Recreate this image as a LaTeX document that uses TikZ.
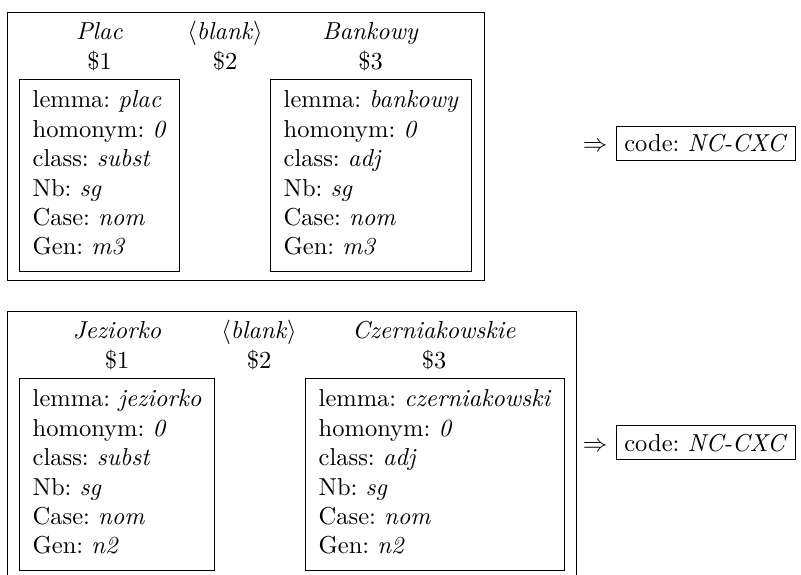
\documentclass[tikz,border=0pt]{standalone}
\usetikzlibrary{fit}
\newcommand{\feat}[2]{#1: \textit{#2}}
\frenchspacing
\begin{document}
\begin{tikzpicture}[x=0.40816pt, y=-0.40816pt,
  frame/.style={draw, line width=0.4pt, inner sep=0pt},
  featbox/.style={draw, line width=0.4pt, anchor=north west,
    inner xsep=5.4pt, inner ysep=3.2pt, align=left},
  head/.style={anchor=base, inner sep=0pt},
  codebox/.style={draw, line width=0.4pt, anchor=base west, inner sep=3.2pt},
  impl/.style={anchor=base, inner sep=0pt}]
\useasboundingbox (0,0) rectangle (801,575);
\clip (0,0) rectangle (801,575);

% ---- first rule: Plac Bankowy ----
\node[frame, fit={(7,12) (484,280)}] (outerA) {};
\node[head] (wA1) at (99.5,40) {\textit{Plac}};
\node[head] (wA2) at (225,40) {$\langle$\textit{blank}$\rangle$};
\node[head] (wA3) at (370.5,40) {\textit{Bankowy}};
\node[head] (nA1) at (99.5,69.4) {\$1};
\node[head] (nA2) at (225,69.4) {\$2};
\node[head] (nA3) at (370.5,69.4) {\$3};
\node[featbox] (fA1) at (19,79) {\begin{tabular}{@{}l@{}}
  \feat{lemma}{plac}\\ \feat{homonym}{0}\\ \feat{class}{subst}\\
  \feat{Nb}{sg}\\ \feat{Case}{nom}\\ \feat{Gen}{m3}\end{tabular}};
\node[featbox] (fA3) at (270,79) {\begin{tabular}{@{}l@{}}
  \feat{lemma}{bankowy}\\ \feat{homonym}{0}\\ \feat{class}{adj}\\
  \feat{Nb}{sg}\\ \feat{Case}{nom}\\ \feat{Gen}{m3}\end{tabular}};
\node[impl] (iA) at (595,152) {$\Rightarrow$};
\node[codebox] (cA) at (616,152) {code: \textit{NC-CXC}};

% ---- second rule: Jeziorko Czerniakowskie ----
\node[frame, fit={(7,311) (576,578)}] (outerB) {};
\node[head] (wB1) at (117,339) {\textit{Jeziorko}};
\node[head] (wB2) at (259,339) {$\langle$\textit{blank}$\rangle$};
\node[head] (wB3) at (434,339) {\textit{Czerniakowskie}};
\node[head] (nB1) at (117,368.4) {\$1};
\node[head] (nB2) at (259,368.4) {\$2};
\node[head] (nB3) at (434,368.4) {\$3};
\node[featbox] (fB1) at (19,378) {\begin{tabular}{@{}l@{}}
  \feat{lemma}{jeziorko}\\ \feat{homonym}{0}\\ \feat{class}{subst}\\
  \feat{Nb}{sg}\\ \feat{Case}{nom}\\ \feat{Gen}{n2}\end{tabular}};
\node[featbox] (fB3) at (305,378) {\begin{tabular}{@{}l@{}}
  \feat{lemma}{czerniakowski}\\ \feat{homonym}{0}\\ \feat{class}{adj}\\
  \feat{Nb}{sg}\\ \feat{Case}{nom}\\ \feat{Gen}{n2}\end{tabular}};
\node[impl] (iB) at (595,451) {$\Rightarrow$};
\node[codebox] (cB) at (616,451) {code: \textit{NC-CXC}};
\end{tikzpicture}
\end{document}
